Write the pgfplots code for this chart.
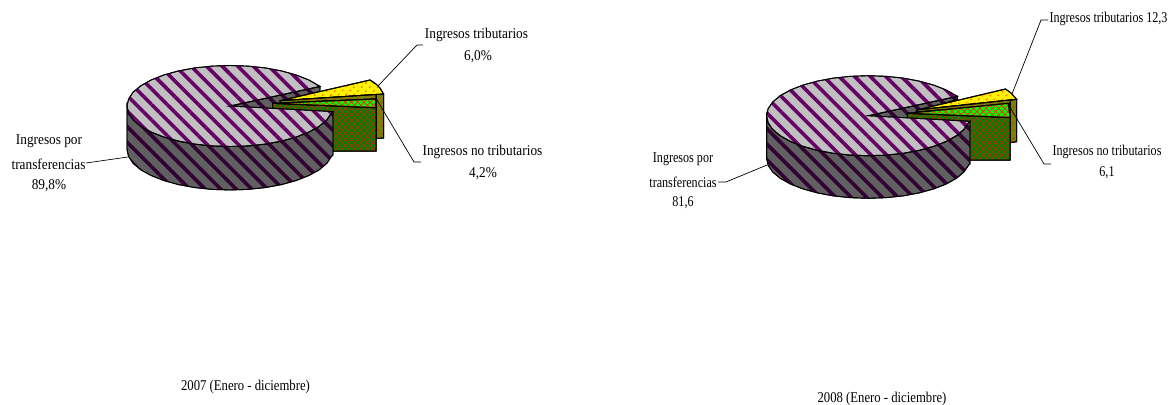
\documentclass[border=0pt]{standalone}
\usepackage{pgfplots}
\pgfplotsset{compat=1.18}
\usepackage{fontspec}
\usetikzlibrary{patterns.meta}
\setmainfont{Liberation Serif}
\newfontfamily\fa[FakeStretch=0.89]{Liberation Serif}
\newfontfamily\fb[FakeStretch=0.81]{Liberation Serif}
\newfontfamily\fc[FakeStretch=0.85]{Liberation Serif}
\newcommand{\FA}{\fontsize{15}{15}\selectfont\fa}
\newcommand{\FB}{\fontsize{15}{15}\selectfont\fb}
\newcommand{\FC}{\fontsize{15}{15}\selectfont\fc}
\definecolor{pieT}{HTML}{C0C0C0}
\definecolor{pieTs}{HTML}{660066}
\definecolor{pieS}{HTML}{606060}
\definecolor{pieSs}{HTML}{330033}
\definecolor{olv}{HTML}{808000}
\definecolor{grD}{HTML}{008000}
\pgfplotsset{
 pietop/.style={draw=black,line width=0.9bp,fill=pieT,postaction={pattern={Lines[angle=-45,distance=11bp,line width=3.6bp]},pattern color=pieTs}},
 pieside/.style={draw=black,line width=0.9bp,fill=pieS,postaction={pattern={Lines[angle=-45,distance=11bp,line width=3.6bp]},pattern color=pieSs}},
 yeltop/.style={draw=black,line width=1bp,fill=yellow,postaction={pattern={Dots[radius=1.1bp,distance=6bp,angle=45]},pattern color={rgb,255:red,255;green,90;blue,0}}},
 yelside/.style={draw=black,line width=1bp,fill=olv,postaction={pattern={Dots[radius=1.1bp,distance=6bp,angle=45]},pattern color={rgb,255:red,190;green,50;blue,40}}},
 grtop/.style={draw=black,line width=1bp,fill=green,postaction={pattern={Hatch[angle=45,distance=4.4bp,line width=0.8bp]},pattern color={rgb,255:red,230;green,50;blue,20}}},
 grside/.style={draw=black,line width=1bp,fill=grD,postaction={pattern={Hatch[angle=45,distance=4.4bp,line width=0.8bp]},pattern color={rgb,255:red,170;green,50;blue,10}}},
 leader/.style={draw=black,line width=0.7bp},
}
\begin{document}
\begin{tikzpicture}
\begin{axis}[width=1171bp,height=404bp,scale only axis,hide axis,
  xmin=0,xmax=1171,ymin=0,ymax=404,y dir=reverse,no markers,clip=false,
  every node/.append style={inner sep=0pt,anchor=center}]
\path[use as bounding box] (axis cs:0,0) rectangle (axis cs:1171,404);
% ---------- 2007
\addplot[pieside] coordinates {(230,106)(320,86.4)(320,92)(280,104)(272,110)(240,108)} --cycle;
\addplot[yelside] coordinates {(376,94.5)(383.5,94)(383.5,138)(376,138.5)} --cycle;
\addplot[yeltop] coordinates {(280,100.7)(370,80)(376,84)(380,88)(383.5,94)} --cycle;
\addplot[yelside] coordinates {(280,100.7)(376,94.5)(376,99)(280,103)} --cycle;
\addplot[grside] coordinates {(272.7,103.3)(376,107.7)(376,151)(300,151)(272.7,108)} --cycle;
\addplot[grtop] coordinates {(272.7,103.3)(375.5,99)(376,107.7)} --cycle;
\addplot[pieside] coordinates {(127,106)(128.6,113)(133.2,119.9)(140.8,126.3)(151.1,132)(163.8,137)(178.5,141.1)(194.8,144.1)(212.1,145.9)(230,146.5)(247.9,145.9)(265.2,144.1)(281.5,141.1)(296.2,137)(308.9,132)(319.2,126.3)(326.8,119.9)(331.4,113)(333,111.6)
 (333,155.1)(331.4,156.5)(326.8,163.4)(319.2,169.8)(308.9,175.5)(296.2,180.5)(281.5,184.6)(265.2,187.6)(247.9,189.4)(230,190)(212.1,189.4)(194.8,187.6)(178.5,184.6)(163.8,180.5)(151.1,175.5)(140.8,169.8)(133.2,163.4)(128.6,156.5)(127,149.5)} --cycle;
\addplot[pietop] coordinates {(230,106)(320,86.4)(308.9,80)(296.2,75)(281.5,70.9)(265.2,67.9)(247.9,66.1)(230,65.5)(212.1,66.1)(194.8,67.9)(178.5,70.9)(163.8,75)(151.1,80)(140.8,85.8)(133.2,92.1)(128.6,99)(127,106)(128.6,113)(133.2,119.9)(140.8,126.3)(151.1,132)(163.8,137)(178.5,141.1)(194.8,144.1)(212.1,145.9)(230,146.5)(247.9,145.9)(265.2,144.1)(281.5,141.1)(296.2,137)(308.9,132)(319.2,126.3)(326.8,119.9)(331.4,113)(333,111.6)} --cycle;
\addplot[leader] coordinates {(378,86)(417,45)(423,45)};
\addplot[leader] coordinates {(377,100)(414,162)(421,162)};
\addplot[leader] coordinates {(86,163)(128,157)};
\node at (axis cs:476.5,35) {\FA Ingresos tributarios};
\node at (axis cs:478,57) {\FA 6,0\%};
\node at (axis cs:482.5,152) {\FA Ingresos no tributarios};
\node at (axis cs:483,174) {\FA 4,2\%};
\node at (axis cs:49,141) {\FA Ingresos por};
\node at (axis cs:48.5,164) {\FA transferencias};
\node at (axis cs:49,186) {\FA 89,8\%};
\node at (axis cs:245.5,387) {\FC 2007 (Enero - diciembre)};
% ---------- 2008
\addplot[pieside] coordinates {(868.3,115.7)(957.3,96.3)(957.3,99.5)(917,111)(908,119)(880,118)} --cycle;
\addplot[yelside] coordinates {(1010,100)(1016.7,99.3)(1016.7,141.7)(1010,142.7)} --cycle;
\addplot[yeltop] coordinates {(916.7,110)(1005.5,89)(1011,93)(1016.7,99.3)} --cycle;
\addplot[yelside] coordinates {(916.7,110)(1010,100)(1010,104)(916.7,112)} --cycle;
\addplot[grside] coordinates {(907.3,113.3)(1010,117.5)(1010,160)(940,160)(907.3,118)} --cycle;
\addplot[grtop] coordinates {(907.3,113.3)(1008.5,103.3)(1010,117.5)} --cycle;
\addplot[pieside] coordinates {(766.6,115.7)(768.1,122.7)(772.7,129.4)(780.2,135.7)(790.4,141.4)(802.9,146.3)(817.4,150.3)(833.5,153.3)(850.6,155.1)(868.3,155.7)(886,155.1)(903.1,153.3)(919.2,150.3)(933.7,146.3)(946.2,141.4)(956.4,135.7)(963.9,129.4)(968.5,122.7)(970,121.3)
 (970,163.9)(968.5,165.3)(963.9,172)(956.4,178.3)(946.2,184)(933.7,188.9)(919.2,192.9)(903.1,195.9)(886,197.7)(868.3,198.3)(850.6,197.7)(833.5,195.9)(817.4,192.9)(802.9,188.9)(790.4,184)(780.2,178.3)(772.7,172)(768.1,165.3)(766.6,158.3)} --cycle;
\addplot[pietop] coordinates {(868.3,115.7)(957.3,96.3)(946.2,90)(933.7,85.1)(919.2,81.1)(903.1,78.1)(886,76.3)(868.3,75.7)(850.6,76.3)(833.5,78.1)(817.4,81.1)(802.9,85.1)(790.4,90)(780.2,95.7)(772.7,102)(768.1,108.7)(766.6,115.7)(768.1,122.7)(772.7,129.4)(780.2,135.7)(790.4,141.4)(802.9,146.3)(817.4,150.3)(833.5,153.3)(850.6,155.1)(868.3,155.7)(886,155.1)(903.1,153.3)(919.2,150.3)(933.7,146.3)(946.2,141.4)(956.4,135.7)(963.9,129.4)(968.5,122.7)(970,121.3)} --cycle;
\addplot[leader] coordinates {(1012,94)(1041,20)(1048,20)};
\addplot[leader] coordinates {(1008,104)(1044,164)(1051,164)};
\addplot[leader] coordinates {(718,182)(726,182)(767,165)};
\node at (axis cs:1108.5,19) {\FB Ingresos tributarios 12,3};
\node at (axis cs:1107,152) {\FB Ingresos no tributarios};
\node at (axis cs:1107,173) {\FB 6,1};
\node at (axis cs:683,159) {\FB Ingresos por};
\node at (axis cs:683,182) {\FB transferencias};
\node at (axis cs:683,203) {\FB 81,6};
\node at (axis cs:882,399) {\FC 2008 (Enero - diciembre)};
\end{axis}
\end{tikzpicture}
\end{document}
